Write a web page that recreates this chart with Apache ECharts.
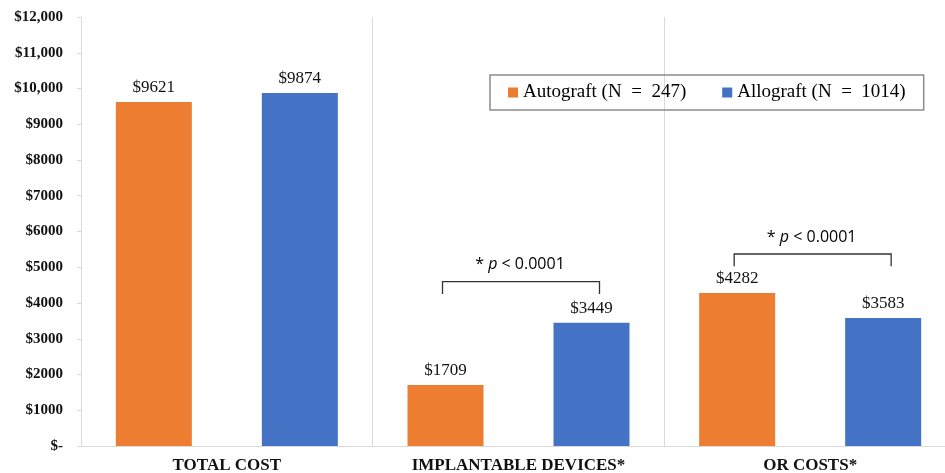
<!DOCTYPE html>
<html>
<head>
<meta charset="utf-8">
<script src="https://cdn.jsdelivr.net/npm/echarts@6/dist/echarts.min.js"></script>
<style>html,body{margin:0;padding:0;background:#fff}#c{width:945px;height:473px}</style>
</head>
<body>
<div id="c"></div>
<script>
var categories = ['TOTAL COST', 'IMPLANTABLE DEVICES*', 'OR COSTS*'];
var autograft = [9621, 1709, 4282];
var allograft = [9874, 3449, 3583];
var seriesNames = ['Autograft (N  =  247)', 'Allograft (N  =  1014)'];
var yTicks = [0, 1000, 2000, 3000, 4000, 5000, 6000, 7000, 8000, 9000, 10000, 11000, 12000];
var yTickLabels = ['$-', '$1000', '$2000', '$3000', '$4000', '$5000', '$6000', '$7000', '$8000', '$9000', '$10,000', '$11,000', '$12,000'];
var sigCategories = ['IMPLANTABLE DEVICES*', 'OR COSTS*'];
var sigBracketLevels = [4600, 5370];
var sigTickDrop = [350, 340];
var sigText = '* p < 0.0001';

var chart = echarts.init(document.getElementById('c'));
var serif = '"Liberation Serif", "Times New Roman", serif';
var BAR_W = 76, BAR_GAP = 70;
function lbl(v) { return '$' + v.value; }
chart.setOption({
  animation: false,
  grid: { left: 81, top: 17, bottom: 27, width: 875, outerBoundsMode: 'none', containLabel: false },
  legend: {
    left: 490, top: 75,
    data: seriesNames,
    itemWidth: 10, itemHeight: 10, itemGap: 36,
    icon: 'rect',
    padding: [8, 18, 8, 18],
    borderColor: '#8c8c8c', borderWidth: 1.5,
    textStyle: { fontFamily: serif, fontSize: 19, color: '#000' }
  },
  xAxis: {
    type: 'category', data: categories,
    axisLine: { lineStyle: { color: '#d9d9d9' } },
    axisTick: { show: false },
    splitLine: { show: true, lineStyle: { color: '#d9d9d9' } },
    axisLabel: { fontFamily: serif, fontWeight: 'bold', fontSize: 17, color: '#111', margin: 11 }
  },
  yAxis: {
    type: 'value', min: 0, max: 12000, interval: 1000,
    axisLine: { show: true, lineStyle: { color: '#d9d9d9' } },
    axisTick: { show: true, length: 4, lineStyle: { color: '#d9d9d9' } },
    splitLine: { show: false },
    axisLabel: {
      fontFamily: serif, fontWeight: 'bold', fontSize: 15, color: '#111', margin: 18,
      formatter: function (v) { var i = yTicks.indexOf(v); return i >= 0 ? yTickLabels[i] : ''; }
    }
  },
  series: [
    { name: seriesNames[0], type: 'bar', data: autograft, barWidth: BAR_W, barGap: (BAR_GAP / BAR_W * 100) + '%',
      itemStyle: { color: '#ED7D31' },
      label: { show: true, position: 'top', distance: 6, formatter: lbl, fontFamily: serif, fontSize: 17, color: '#111' } },
    { name: seriesNames[1], type: 'bar', data: allograft, barWidth: BAR_W,
      itemStyle: { color: '#4472C4' },
      label: { show: true, position: 'top', distance: 6, formatter: lbl, fontFamily: serif, fontSize: 17, color: '#111' } }
  ]
});

var graphics = [];
var off = (BAR_W + BAR_GAP) / 2;
sigCategories.forEach(function (cat, i) {
  var top = chart.convertToPixel({ gridIndex: 0 }, [cat, sigBracketLevels[i]]);
  var bot = chart.convertToPixel({ gridIndex: 0 }, [cat, sigBracketLevels[i] - sigTickDrop[i]]);
  var cx = top[0], x1 = cx - off - 3, x2 = cx + off + 8, y = top[1], yb = bot[1];
  graphics.push({
    type: 'polyline', shape: { points: [[x1, yb], [x1, y], [x2, y], [x2, yb]] },
    style: { stroke: '#333', lineWidth: 1.3, fill: null }
  });
  graphics.push({
    type: 'text', x: (x1 + x2) / 2 - 1, y: y - 9,
    style: {
      text: '{a|* }{p|p}{a| < 0.0001}',
      rich: {
        a: { fontFamily: '"Open Sans", "Noto Sans", sans-serif', fontSize: 16, fill: '#000' },
        p: { fontFamily: '"Open Sans", "Noto Sans", sans-serif', fontSize: 16, fontStyle: 'italic', fill: '#000' }
      },
      align: 'center', verticalAlign: 'bottom'
    }
  });
});
chart.setOption({ graphic: graphics });
</script>
</body>
</html>
